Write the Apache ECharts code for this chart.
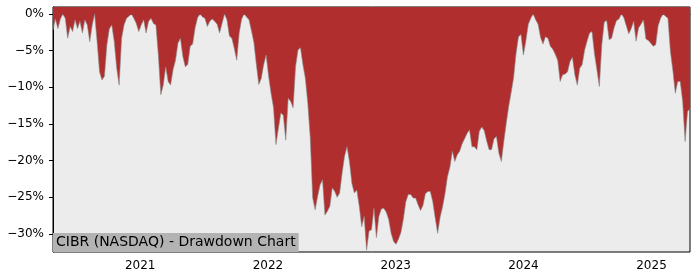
<!DOCTYPE html>
<html>
<head>
<meta charset="utf-8">
<script src="https://cdn.jsdelivr.net/npm/echarts@6/dist/echarts.min.js"></script>
<style>html,body{margin:0;padding:0;background:#fff}#c{width:700px;height:280px}</style>
</head>
<body>
<div id="c"></div>
<script>
// Weekly drawdown (%), first week starting 2020-04-27
const startDate = [2020, 3, 27];
const stepDays = 7;
const dd2020 = [-2.2,-0.7,-2.0,-0.7,0,-0.6,-3.3,-1.7,-2.4,-0.8,-2.0,-1.0,-2.6,-0.8,-1.5,-3.8,-1.5,0,-3.8,-7.9,-9.0,-8.5,-4.2,-2.0,-1.5,-3.8,-7.4,-9.7,-3.3,-1.5,-0.6,-0.3,0,-0.6,-1.3,-2.4];
const dd2021 = [-1.5,-0.8,-2.6,-1.0,-0.6,-1.3,-1.5,-5.6,-11.0,-9.7,-7.2,-9.2,-9.7,-7.6,-6.3,-4.0,-3.3,-5.8,-7.2,-6.9,-4.4,-4.1,-1.9,-0.5,0,-0.4,-0.6,-1.7,-1.0,-0.7,-1.0,-1.4,-2.6,-1.3,0,-0.8,-3.0,-3.3,-4.7,-6.3,-2.6,-0.7,0,-0.4,-0.8,-2.3,-3.9,-6.9,-9.6,-8.8,-6.9,-5.6];
const dd2022 = [-8.5,-10.8,-12.8,-17.8,-15.6,-13.5,-13.8,-17.2,-11.5,-11.9,-12.8,-7.2,-4.9,-4.6,-6.9,-8.8,-12.2,-16.9,-25.1,-26.7,-24.9,-23.3,-22.6,-27.4,-26.9,-26.2,-23.7,-24.2,-25.0,-24.4,-21.7,-19.4,-18.1,-20.1,-23.1,-24.4,-24.0,-26.2,-29.0,-27.6,-32.2,-29.6,-29.4,-26.5,-30.5,-27.6,-26.6,-26.5,-27.0,-28.0,-29.9,-31.0];
const dd2023 = [-31.4,-30.7,-29.8,-28.0,-25.6,-24.6,-24.6,-25.1,-25.1,-26.0,-26.8,-26.1,-24.5,-24.2,-24.2,-25.6,-27.8,-29.9,-27.7,-26.3,-24.5,-22.2,-20.9,-18.7,-20.1,-19.2,-18.7,-17.7,-17.0,-16.3,-15.8,-18.1,-18.1,-18.5,-16.0,-15.4,-15.9,-17.3,-18.5,-18.5,-17.0,-16.7,-19.0,-20.1,-17.4,-14.9,-12.6,-10.7,-8.7,-5.4,-3.1,-2.8];
const dd2024 = [-5.6,-3.7,-1.4,-0.6,0,-0.8,-1.4,-3.2,-4.1,-3.1,-3.3,-4.4,-4.8,-5.5,-6.3,-9.2,-8.3,-8.2,-7.9,-6.5,-5.9,-8.3,-9.7,-7.4,-6.9,-4.9,-3.7,-2.6,-2.4,-5.4,-7.6,-9.9,-4.2,-1.1,-0.9,-3.5,-3.3,-1.9,-0.9,-0.7,0,-0.5,-1.6,-2.7,-2.0,-1.0,-3.7,-1.9,-1.4,-0.8,-3.4,-3.6,-4.0];
const dd2025 = [-4.4,-4.2,-1.6,-0.6,0,-0.3,-0.6,-5.1,-7.7,-10.8,-9.2,-9.2,-11.9,-17.4,-13.3,-12.9];
const yTicks = [0,-5,-10,-15,-20,-25,-30];
const xTickYears = [2021,2022,2023,2024,2025];
const xRangeStart = [2020, 3, 27];
const xRangeEnd = [2025, 3, 21];
const yRange = [-32.45, 0.95];
const titleText = 'CIBR (NASDAQ) - Drawdown Chart';

const values = [].concat(dd2020, dd2021, dd2022, dd2023, dd2024, dd2025);
const data = values.map((v, i) => {
  const d = new Date(startDate[0], startDate[1], startDate[2]);
  d.setDate(d.getDate() + i * stepDays);
  return [d.getTime(), v];
});
const yearTicks = xTickYears.map(y => new Date(y, 0, 1).getTime());
const font = 'DejaVu Sans';

const chart = echarts.init(document.getElementById('c'), null, {renderer: 'canvas'});
chart.setOption({
  animation: false,
  title: {
    text: titleText, left: 53, top: 233,
    backgroundColor: '#b3b3b3', padding: [2, 3, 2, 3],
    textStyle: {fontFamily: font, fontSize: 14, fontWeight: 'normal', color: '#000', lineHeight: 15}
  },
  grid: {left: 53, right: 10, top: 7, bottom: 28, show: true, backgroundColor: '#ececec', borderColor: '#000', borderWidth: 1},
  xAxis: {
    type: 'value',
    min: new Date(xRangeStart[0], xRangeStart[1], xRangeStart[2]).getTime(),
    max: new Date(xRangeEnd[0], xRangeEnd[1], xRangeEnd[2]).getTime(),
    splitLine: {show: false},
    axisLine: {show: true, lineStyle: {color: '#000', width: 1}},
    axisTick: {show: true, length: 4, customValues: yearTicks, lineStyle: {color: '#000'}},
    axisLabel: {customValues: yearTicks, formatter: v => String(new Date(v).getFullYear()), fontFamily: font, fontSize: 12, color: '#000', margin: 8}
  },
  yAxis: {
    type: 'value', min: yRange[0], max: yRange[1],
    splitLine: {show: false},
    axisLine: {show: true, lineStyle: {color: '#000', width: 1}},
    axisTick: {show: true, length: 4, customValues: yTicks, lineStyle: {color: '#000'}},
    axisLabel: {customValues: yTicks, formatter: v => (v < 0 ? '\u2212' : '') + Math.abs(v) + '%', fontFamily: font, fontSize: 12, color: '#000', margin: 9}
  },
  series: [{
    type: 'line', data: data, showSymbol: false, symbol: 'none',
    lineStyle: {color: '#8c8c8c', width: 0.6},
    areaStyle: {origin: 'end', color: '#b02e2e', opacity: 1}
  }]
});
</script>
</body>
</html>
